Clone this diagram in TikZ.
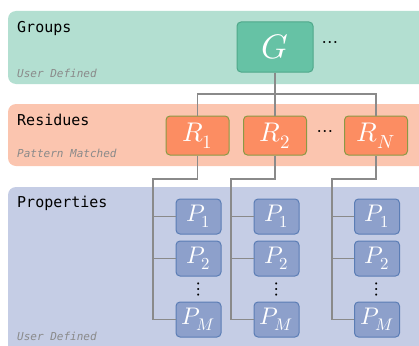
\documentclass[tikz,border=0pt]{standalone}
\usepackage{fontspec}
\usepackage{unicode-math}
\setmathfont{Latin Modern Math}
\setmonofont{DejaVu Sans Mono}
\usetikzlibrary{positioning}

\definecolor{groupband}{HTML}{B3DFD1}
\definecolor{groupfill}{HTML}{66C2A5}
\definecolor{groupedge}{HTML}{4FA88A}
\definecolor{resband}{HTML}{FBC5AF}
\definecolor{resfill}{HTML}{FC8D62}
\definecolor{resedge}{HTML}{8A9A45}
\definecolor{propband}{HTML}{C5CDE5}
\definecolor{propfill}{HTML}{8DA0CB}
\definecolor{propedge}{HTML}{5B7DB5}
\definecolor{wire}{HTML}{8A8A8A}
\definecolor{notegray}{HTML}{8A8A8A}

\tikzset{
    band/.style = {rounded corners = 8pt, draw = none},
    title/.style = {anchor = west, inner sep = 0, font = \ttfamily\fontsize{15}{18}\selectfont},
    note/.style = {anchor = west, inner sep = 0, text = notegray, font = \ttfamily\itshape\fontsize{11}{13}\selectfont},
    gbox/.style = {draw = groupedge, fill = groupfill, rounded corners = 4pt, line width = 1pt,
        minimum width = 76pt, minimum height = 50pt, text = white, font = \fontsize{34}{36}\selectfont},
    rbox/.style = {draw = resedge, fill = resfill, rounded corners = 4pt, line width = 1pt,
        minimum width = 63pt, minimum height = 39pt, text = white, font = \fontsize{27}{29}\selectfont},
    pbox/.style = {draw = propedge, fill = propfill, rounded corners = 4pt, line width = 1pt,
        minimum width = 45pt, minimum height = 35pt, text = white, font = \fontsize{24}{26}\selectfont},
    wire/.style = {draw = wire, line width = 1.3pt},
    dots/.style = {inner sep = 0, font = \fontsize{20}{22}\selectfont}
}

\begin{document}
\begin{tikzpicture}[x = 1pt, y = -1pt]
    \useasboundingbox (0, 0) rectangle (419, 345);

    % bands
    \fill[band, groupband] (8, 11) rectangle (428, 84);
    \fill[band, resband] (8, 104) rectangle (428, 166);
    \fill[band, propband] (8, 187) rectangle (428, 360);

    \node[title] (groups) at (17, 28) {Groups};
    \node[note] (groupsnote) at (17, 73) {User Defined};
    \node[title] (residues) at (17, 120) {Residues};
    \node[note] (residuesnote) at (17, 153) {Pattern Matched};
    \node[title] (properties) at (17, 203) {Properties};
    \node[note] (propertiesnote) at (17, 336) {User Defined};

    % groups and residues
    \node[gbox] (g) at (275, 47) {$G$};
    \node[dots] (gdots) at (330, 44) {$\cdots$};

    \node[rbox] (r1) at (197.5, 135.5) {$R_1$};
    \node[rbox] (r2) at (275, 135.5) {$R_2$};
    \node[rbox] (rn) at (376, 135.5) {$R_N$};
    \node[dots] (rdots) at (325, 133) {$\cdots$};

    \coordinate (split) at (275, 94);
    \draw[wire] (g) -- (split);
    \draw[wire] (r1.north) |- (split) -| (rn.north);
    \draw[wire] (split) -- (r2.north);

    % properties, one column per residue
    \foreach \r/\x/\t in {r1/198.5/153, r2/276.5/231, rn/377/332} {
        \node[pbox] (\r p1) at (\x, 216.5) {$P_1$};
        \node[pbox] (\r p2) at (\x, 258.5) {$P_2$};
        \node[dots] (\r pdots) at (\x, 289) {$\vdots$};
        \node[pbox] (\r pm) at (\x, 319.5) {$P_M$};

        \coordinate (\r top) at (\t, 179);
        \draw[wire] (\r.south) |- (\r top) |- (\r pm.west);
        \draw[wire] (\r p1.west) -- (\r p1.west -| \r top);
        \draw[wire] (\r p2.west) -- (\r p2.west -| \r top);
    }
\end{tikzpicture}
\end{document}
